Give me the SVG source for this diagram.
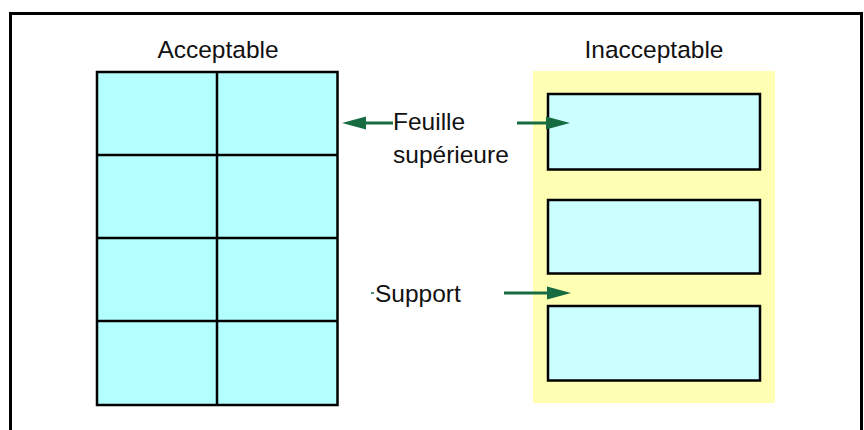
<svg xmlns="http://www.w3.org/2000/svg" width="864" height="430" viewBox="0 0 864 430">
<defs>
<style>
.t{font-family:"Liberation Sans",Arial,sans-serif;font-size:24.5px;fill:#111}
.cell{fill:#b3ffff;stroke:#000;stroke-width:2.5}
.lab{fill:#ccffff;stroke:#000;stroke-width:2.5}
.arr{stroke:#166b40;stroke-width:3;fill:none}
.head{fill:#166b40}
</style>
</defs>
<rect width="864" height="430" fill="#fff"/>
<path d="M10.5,432 V13.5 H861.5 V432" fill="none" stroke="#000" stroke-width="3"/>
<g id="acceptable">
<text class="t" x="218" y="58" text-anchor="middle">Acceptable</text>
<rect class="cell" x="97" y="72" width="240.5" height="333"/>
<line x1="217" y1="72" x2="217" y2="405" stroke="#000" stroke-width="2.5"/>
<line x1="97" y1="155" x2="337.5" y2="155" stroke="#000" stroke-width="2.5"/>
<line x1="97" y1="238" x2="337.5" y2="238" stroke="#000" stroke-width="2.5"/>
<line x1="97" y1="321" x2="337.5" y2="321" stroke="#000" stroke-width="2.5"/>
</g>
<g id="inacceptable">
<text class="t" x="654" y="58" text-anchor="middle">Inacceptable</text>
<rect x="533" y="71" width="242" height="332" fill="#ffffb3"/>
<rect class="lab" x="548" y="94" width="212" height="75.5"/>
<rect class="lab" x="548" y="200" width="212" height="73.5"/>
<rect class="lab" x="548" y="306" width="212" height="74.5"/>
</g>
<g id="labels">
<text class="t" x="393" y="130">Feuille</text>
<text class="t" x="393" y="163">supérieure</text>
<text class="t" x="375" y="302">Support</text>
<line x1="371" y1="293" x2="374" y2="293" stroke="#166b40" stroke-width="1.5"/>
</g>
<g id="connectors">
<line class="arr" x1="393" y1="123" x2="362" y2="123"/>
<polygon class="head" points="342,123 366,116.5 366,129.5"/>
<line class="arr" x1="517" y1="123" x2="550" y2="123"/>
<polygon class="head" points="570,123 546,116.5 546,129.5"/>
<line class="arr" x1="504" y1="293" x2="551" y2="293"/>
<polygon class="head" points="571,293 547,286.5 547,299.5"/>
</g>
</svg>
